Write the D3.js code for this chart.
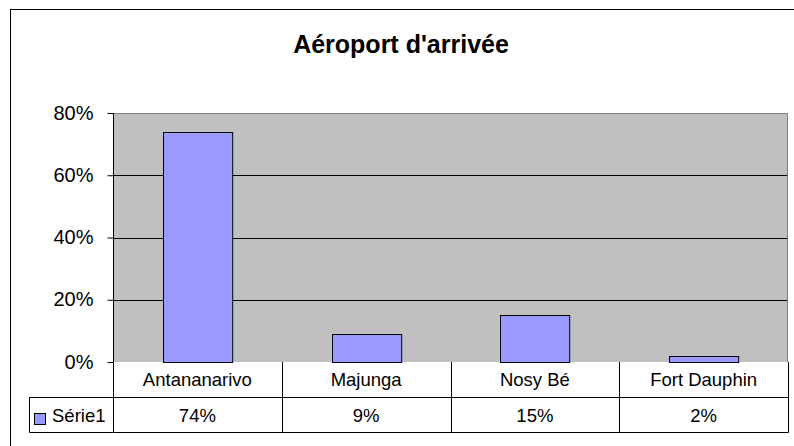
<!DOCTYPE html>
<html><head><meta charset="utf-8">
<script src="https://cdn.jsdelivr.net/npm/d3@7"></script>
<style>body{margin:0;background:#fff}svg{display:block;font-family:"Liberation Sans",Arial,sans-serif}</style>
</head><body>
<svg id="c" width="794" height="446"></svg>
<script>
const categories = ["Antananarivo", "Majunga", "Nosy Bé", "Fort Dauphin"];
const values = [0.74, 0.09, 0.15, 0.02];
const valueLabels = ["74%", "9%", "15%", "2%"];
const yTicks = [0, 0.2, 0.4, 0.6, 0.8];
const seriesName = "Série1";
const title = "Aéroport d'arrivée";

const svg = d3.select("#c");
const L = 113, R = 788, T = 113, B = 362;
const FF = "Liberation Sans, Arial, sans-serif";
svg.append("rect").attr("x", 10.5).attr("y", 9.5).attr("width", 790).attr("height", 445)
  .attr("fill", "#fff").attr("stroke", "#000").attr("stroke-width", 1);

svg.append("text").attr("x", 401).attr("y", 53).attr("text-anchor", "middle")
  .attr("font-size", 25).attr("font-weight", "bold").text(title);

const x = d3.scaleBand().domain(categories).range([L, R]).paddingInner(0).paddingOuter(0);
const y = d3.scaleLinear().domain([0, 0.8]).range([B, T]);

svg.append("rect").attr("x", L).attr("y", T).attr("width", R - L).attr("height", B - T)
  .attr("fill", "#C0C0C0");

svg.append("g").selectAll("line").data(yTicks.filter(d => d > 0 && d < 0.8)).join("line")
  .attr("x1", L).attr("x2", R).attr("y1", d => Math.round(y(d)) + 0.5).attr("y2", d => Math.round(y(d)) + 0.5)
  .attr("stroke", "#000");

svg.append("path").attr("d", `M${L},${T + 0.5}H${R - 0.5}V${B}`).attr("fill", "none").attr("stroke", "#808080");

const bw = x.bandwidth() * 0.41;
svg.append("g").selectAll("rect").data(values).join("rect")
  .attr("x", (d, i) => Math.round(x(categories[i]) + (x.bandwidth() - bw) / 2) + 0.5)
  .attr("y", d => Math.round(y(d)) + 0.5)
  .attr("width", bw)
  .attr("height", d => B - Math.round(y(d)))
  .attr("fill", "#9999FF").attr("stroke", "#000");

const yAxis = d3.axisLeft(y).tickValues(yTicks).tickFormat(d3.format(".0%")).tickSize(6).tickPadding(14);
const ga = svg.append("g").attr("transform", `translate(${L + 0.5},0)`).call(yAxis);
ga.selectAll(".domain").attr("d", `M0,${T}V${B}`).attr("stroke", "#000");
ga.selectAll("text").attr("font-size", 20).attr("font-family", FF).attr("fill", "#000").attr("dy", "0.3em");
ga.selectAll("line").attr("stroke", "#000");

const row1T = B, row1B = 397, row2B = 432, tableL = 29;
const tg = svg.append("g").attr("stroke", "#000").attr("fill", "none");
tg.append("path").attr("d", `M${L + 0.5},${row1T}V${row2B + 0.5}H${R + 0.5}V${row1T}`);
tg.append("path").attr("d", `M${tableL + 0.5},${row1B + 0.5}H${R + 0.5}M${tableL + 0.5},${row1B}V${row2B + 0.5}H${L}`);
tg.selectAll(".v").data(categories.slice(1)).join("line")
  .attr("x1", d => Math.round(x(d)) + 0.5).attr("x2", d => Math.round(x(d)) + 0.5)
  .attr("y1", row1T).attr("y2", row2B);

svg.append("g").selectAll("text").data(categories).join("text")
  .attr("x", d => x(d) + x.bandwidth() / 2).attr("y", 386).attr("text-anchor", "middle")
  .attr("font-size", 18.5).text(d => d);
svg.append("g").selectAll("text").data(valueLabels).join("text")
  .attr("x", (d, i) => x(categories[i]) + x.bandwidth() / 2).attr("y", 422).attr("text-anchor", "middle")
  .attr("font-size", 18.5).text(d => d);

svg.append("rect").attr("x", 34.5).attr("y", 413.5).attr("width", 11).attr("height", 11)
  .attr("fill", "#9999FF").attr("stroke", "#000");
svg.append("text").attr("x", 52).attr("y", 422).attr("font-size", 18.5).text(seriesName);
</script>
</body></html>
